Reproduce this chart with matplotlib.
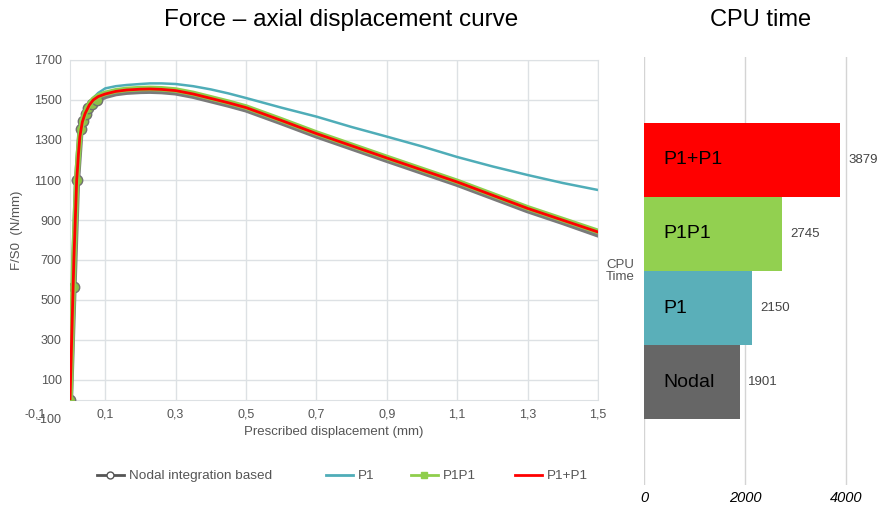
import matplotlib
matplotlib.use("Agg")
import matplotlib.pyplot as plt
from matplotlib.lines import Line2D

plt.rcParams["font.family"] = ["Liberation Sans", "DejaVu Sans"]

# force - displacement curves (x in mm, F/S0 in N/mm)
x_red = [0, 0.005, 0.011, 0.019, 0.021, 0.024, 0.028, 0.035, 0.043, 0.055, 0.066,
         0.08, 0.1, 0.13, 0.161, 0.2, 0.227, 0.26, 0.3, 0.35, 0.4, 0.45, 0.5, 0.6,
         0.7, 0.8, 0.9, 1.0, 1.1, 1.2, 1.3, 1.4, 1.5]
y_red = [0, 320, 700, 1100, 1150, 1230, 1317, 1390, 1433, 1475, 1500,
         1517, 1530, 1543, 1550, 1554, 1555, 1553, 1547, 1530, 1508, 1486, 1462, 1398,
         1332, 1271, 1210, 1150, 1090, 1024, 958, 899, 840]

x_p1p1 = x_red
y_p1p1 = [0, 320, 700, 1100, 1150, 1232, 1320, 1393, 1437, 1479, 1503,
          1520, 1533, 1546, 1553, 1557, 1558, 1556, 1550, 1533, 1511, 1489, 1465, 1401,
          1335, 1274, 1213, 1153, 1093, 1027, 961, 902, 843]

x_nodal = [0, 0.01, 0.02, 0.03, 0.037, 0.045, 0.052, 0.062, 0.076, 0.1, 0.13, 0.161,
           0.2, 0.227, 0.26, 0.3, 0.35, 0.4, 0.45, 0.5, 0.6, 0.7, 0.8, 0.9, 1.0,
           1.1, 1.2, 1.3, 1.4, 1.5]
y_nodal = [0, 565, 1100, 1353, 1395, 1430, 1458, 1482, 1500, 1520, 1534, 1541,
           1545, 1546, 1544, 1538, 1521, 1499, 1477, 1453, 1389, 1323, 1262, 1201, 1141,
           1081, 1015, 949, 890, 828]

x_p1 = [0, 0.005, 0.011, 0.019, 0.021, 0.024, 0.028, 0.035, 0.043, 0.055, 0.066,
        0.08, 0.1, 0.13, 0.161, 0.2, 0.227, 0.26, 0.3, 0.35, 0.4, 0.45, 0.5, 0.6,
        0.7, 0.8, 0.9, 1.0, 1.1, 1.2, 1.3, 1.4, 1.5]
y_p1 = [0, 320, 700, 1100, 1150, 1230, 1317, 1392, 1440, 1485, 1510,
        1535, 1558, 1569, 1575, 1580, 1583, 1583, 1580, 1569, 1553, 1533, 1510, 1462,
        1417, 1365, 1317, 1268, 1215, 1168, 1125, 1085, 1050]

x_ticks = [0.1, 0.3, 0.5, 0.7, 0.9, 1.1, 1.3, 1.5]
x_tick_labels = ["0,1", "0,3", "0,5", "0,7", "0,9", "1,1", "1,3", "1,5"]
y_ticks = [100, 300, 500, 700, 900, 1100, 1300, 1500, 1700]

# CPU time
methods = ["Nodal", "P1", "P1P1", "P1+P1"]
cpu_time = [1901, 2150, 2745, 3879]
bar_colors = ["#666666", "#5aafb9", "#92d050", "#ff0000"]

C_GRAY = "#7a7a7a"
C_TEAL = "#4fadb8"
C_GREEN = "#8fce4c"
C_RED = "#ff0000"
GRID = "#dde1e4"
TXT = "#555555"

fig = plt.figure(figsize=(8.77, 5.05), dpi=100)

# ---- left: force-displacement
ax = fig.add_axes([70 / 877, 1 - 400 / 505, 528 / 877, 340 / 505])
ax.plot(x_nodal, y_nodal, color=C_GRAY, lw=4.5, zorder=2, solid_joinstyle="round")
ax.plot(x_nodal[:9], y_nodal[:9], ls="none", marker="o", ms=7.5,
        mfc="#8dbf4a", mec="#707070", mew=1, zorder=3)
ax.plot(x_p1, y_p1, color=C_TEAL, lw=1.8, zorder=2, solid_joinstyle="round")
ax.plot(x_p1p1, y_p1p1, color=C_GREEN, lw=4, zorder=4, solid_joinstyle="round")
ax.plot(x_red, y_red, color=C_RED, lw=2, zorder=5, solid_joinstyle="round")

ax.set_xlim(0, 1.5)
ax.set_ylim(0, 1700)
ax.set_xticks(x_ticks)
ax.set_xticklabels(x_tick_labels)
ax.set_yticks(y_ticks)
ax.tick_params(length=0, labelsize=9, colors=TXT, pad=6)
ax.grid(True, color=GRID, lw=1)
ax.set_axisbelow(True)
for s in ax.spines.values():
    s.set_color(GRID)
ax.annotate("-0,1", xy=(-0.1, 0), xycoords="data", xytext=(0, -6),
            textcoords="offset points", ha="center", va="top",
            fontsize=9, color=TXT, annotation_clip=False)
ax.annotate("-100", xy=(0, -100), xycoords="data", xytext=(-6, 0),
            textcoords="offset points", ha="right", va="center",
            fontsize=9, color=TXT, annotation_clip=False)
ax.set_xlabel("Prescribed displacement (mm)", fontsize=9.5, color=TXT, labelpad=4)
ax.set_ylabel("F/S0  (N/mm)", fontsize=9.5, color=TXT, labelpad=8)

fig.text(341 / 877, 1 - 20 / 505, "Force \u2013 axial displacement curve",
         ha="center", va="center", fontsize=17.5)

# ---- legend (one entry each, placed like the original)
handles = [
    Line2D([], [], color="#555555", lw=2, marker="o", ms=5, mfc="white", mec="#555555"),
    Line2D([], [], color=C_TEAL, lw=2),
    Line2D([], [], color=C_GREEN, lw=2, marker="s", ms=4),
    Line2D([], [], color=C_RED, lw=2),
]
labels = ["Nodal integration based", "P1", "P1P1", "P1+P1"]
leg_x = [97, 326, 411, 515]
for h, lab, lx in zip(handles, labels, leg_x):
    leg = fig.legend([h], [lab], loc="center left",
                     bbox_to_anchor=(lx / 877, 1 - 476 / 505),
                     frameon=False, fontsize=9.7, handlelength=2.0,
                     handletextpad=0.35, borderpad=0, borderaxespad=0)
    for t in leg.get_texts():
        t.set_color(TXT)

# ---- right: CPU time
bx = fig.add_axes([644 / 877, 1 - 485 / 505, 227 / 877, 428 / 505])
pos = list(range(len(methods)))
bx.barh(pos, cpu_time, height=1.0, color=bar_colors, zorder=2)
bx.set_xlim(0, 4500)
bx.set_ylim(-1.39, 4.39)
bx.set_xticks([0, 2000, 4000])
bx.set_xticklabels(["0", "2000", "4000"], fontstyle="italic", fontsize=10.5)
bx.set_yticks([])
bx.tick_params(length=0, pad=4)
bx.grid(True, axis="x", color="#d4d4d4", lw=1)
bx.set_axisbelow(True)
for s in bx.spines.values():
    s.set_visible(False)
for p, v, name in zip(pos, cpu_time, methods):
    bx.annotate(name, xy=(0, p), xytext=(14, 0), textcoords="offset points",
                ha="left", va="center", fontsize=14, color="black")
    bx.annotate(str(v), xy=(v, p), xytext=(6, 0), textcoords="offset points",
                ha="left", va="center", fontsize=9.5, color="#444444",
                annotation_clip=False)

fig.text(620 / 877, 1 - 271 / 505, "CPU\nTime", ha="center", va="center",
         fontsize=9.5, color=TXT, linespacing=1.1)
fig.text(761 / 877, 1 - 20 / 505, "CPU time", ha="center", va="center", fontsize=17)

fig.savefig("out.png", dpi=100)
